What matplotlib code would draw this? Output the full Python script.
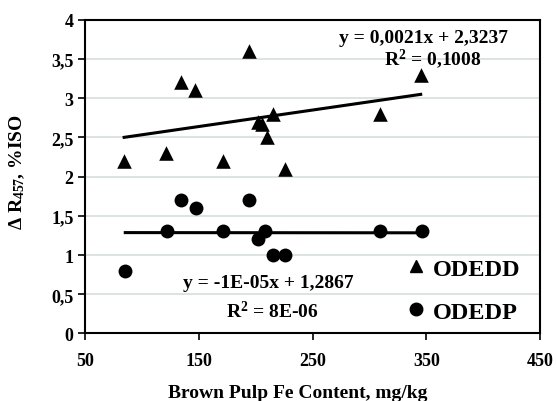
import matplotlib
matplotlib.use("Agg")
import matplotlib.pyplot as plt
from matplotlib.lines import Line2D
import numpy as np

plt.rcParams['font.family'] = ['Liberation Serif', 'DejaVu Serif']
plt.rcParams['font.weight'] = 'bold'
plt.rcParams['mathtext.fontset'] = 'custom'
plt.rcParams['mathtext.rm'] = 'Liberation Serif:bold'
plt.rcParams['mathtext.it'] = 'Liberation Serif:bold'
plt.rcParams['mathtext.bf'] = 'Liberation Serif:bold'

# ODEDD (triangles)
odedd_x = [84, 121, 134, 146, 171, 194, 202, 205, 215, 210, 226, 309, 345]
odedd_y = [2.2, 2.3, 3.2, 3.1, 2.2, 3.6, 2.7, 2.67, 2.8, 2.5, 2.1, 2.8, 3.3]
# ODEDP (circles)
odedp_x = [85, 122, 134, 147, 171, 194, 202, 208, 215, 226, 309, 346]
odedp_y = [0.8, 1.3, 1.7, 1.6, 1.3, 1.7, 1.2, 1.3, 1.0, 1.0, 1.3, 1.3]

# trendline coefficients (slope, intercept)
fit_d = (0.0021, 2.3237)
fit_p = (-1e-05, 1.2867)

eq_d = ["y = 0,0021x + 2,3237", "R$^{2}$ = 0,1008"]
eq_p = ["y = -1E-05x + 1,2867", "R$^{2}$ = 8E-06"]

xticks = [50, 150, 250, 350, 450]
yticks = [0, 0.5, 1, 1.5, 2, 2.5, 3, 3.5, 4]
ytick_labels = ["0", "0,5", "1", "1,5", "2", "2,5", "3", "3,5", "4"]

fig = plt.figure(figsize=(5.57, 4.02), dpi=100)
ax = fig.add_axes([0.1535, 0.168, 0.816, 0.7805])

ax.set_xlim(50, 450)
ax.set_ylim(0, 4)
ax.set_xticks(xticks)
ax.set_xticklabels([str(v) for v in xticks])
ax.set_yticks(yticks)
ax.set_yticklabels(ytick_labels)
ax.yaxis.grid(True, color='#d6dedb', linewidth=1.2)
ax.set_axisbelow(True)
for s in ax.spines.values():
    s.set_linewidth(1.5)
    s.set_color('black')
ax.tick_params(axis='both', direction='out', length=5, width=1.2, labelsize=13)
for lab in ax.get_xticklabels() + ax.get_yticklabels():
    lab.set_fontweight('bold')
ax.tick_params(axis='x', pad=8)

ax.scatter(odedd_x, odedd_y, marker='^', s=110, color='black', zorder=3, linewidths=0)
ax.scatter(odedp_x, odedp_y, marker='o', s=100, color='black', zorder=3, linewidths=0)

xd = np.array([min(odedd_x), max(odedd_x)])
ax.plot(xd, fit_d[0] * xd + fit_d[1], color='black', lw=2.2, zorder=2)
xp = np.array([min(odedp_x), max(odedp_x)])
ax.plot(xp, fit_p[0] * xp + fit_p[1], color='black', lw=2.2, zorder=2)

eqfs = 14
ax.text(347.6, 3.775, eq_d[0], ha='center', va='center', fontsize=eqfs, fontweight='bold', zorder=4)
ax.text(355.5, 3.51, eq_d[1], ha='center', va='center', fontsize=eqfs, fontweight='bold', zorder=4)
ax.text(210.5, 0.645, eq_p[0], ha='center', va='center', fontsize=eqfs, fontweight='bold')
ax.text(214, 0.29, eq_p[1], ha='center', va='center', fontsize=eqfs, fontweight='bold')

handles = [Line2D([], [], marker='^', color='black', linestyle='none', markersize=9),
           Line2D([], [], marker='o', color='black', linestyle='none', markersize=9)]
leg = ax.legend(handles, ['ODEDD', 'ODEDP'], loc='lower right',
                bbox_to_anchor=(1.005, -0.035), frameon=False,
                prop={'family': 'Liberation Serif', 'weight': 'bold', 'size': 17.5},
                handlelength=0.6, handletextpad=0.4, labelspacing=0.85)

ax.set_xlabel('Brown Pulp Fe Content, mg/kg', fontsize=14, fontweight='bold')
ax.xaxis.set_label_coords(0.466, -0.16)
ax.set_ylabel(r'$\Delta$ R$_{457}$, %ISO', fontsize=14, fontweight='bold')
ax.yaxis.set_label_coords(-0.129, 0.516)

fig.savefig('out.png', dpi=100)
